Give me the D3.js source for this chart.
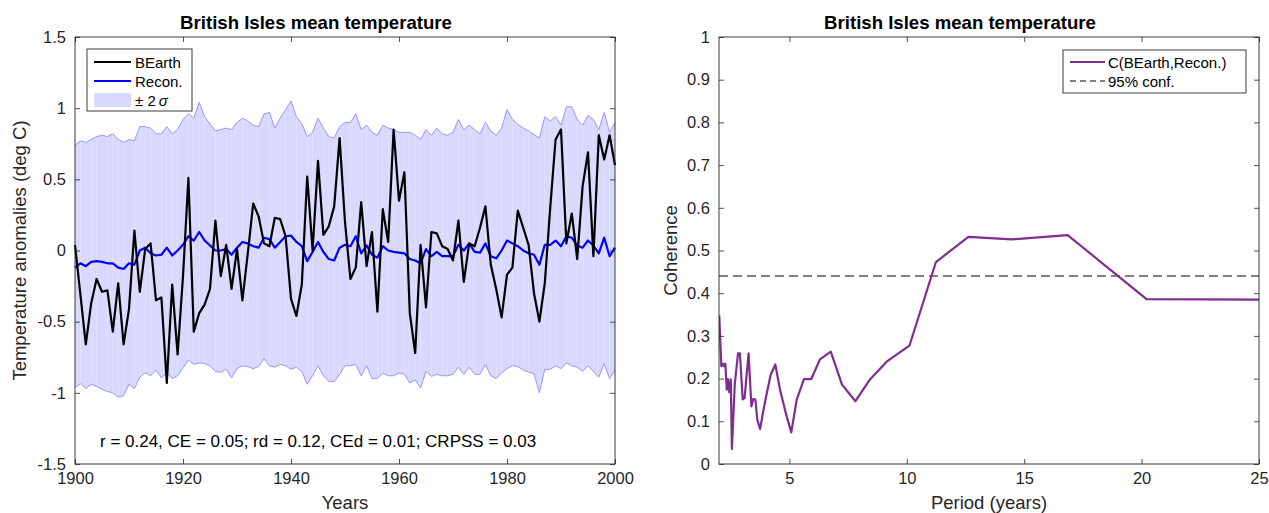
<!DOCTYPE html>
<html>
<head>
<meta charset="utf-8">
<script src="https://cdn.jsdelivr.net/npm/d3@7"></script>
<style>
  body { margin: 0; background: #fff; }
  text { font-family: "Liberation Sans", Arial, Helvetica, sans-serif; }
</style>
</head>
<body>
<svg id="chart" width="1269" height="513"></svg>
<script>
// ---- Data: annual temperature anomalies (deg C), 1900-2000 ----
const years = d3.range(1900, 2001);

const bearth = [
   0.04, -0.31, -0.66, -0.37, -0.20, -0.29, -0.28, -0.57, -0.23, -0.66,
  -0.41,  0.14, -0.29,  0.01,  0.05, -0.35, -0.33, -0.93, -0.24, -0.73,
  -0.18,  0.51, -0.57, -0.44, -0.38, -0.27,  0.21, -0.18,  0.04, -0.27,
   0.01, -0.35, -0.02,  0.33,  0.24,  0.05,  0.03,  0.23,  0.22,  0.10,
  -0.34, -0.46, -0.24,  0.52,  0.00,  0.63,  0.11,  0.17,  0.31,  0.79,
   0.20, -0.20, -0.12,  0.34, -0.11,  0.13, -0.43,  0.29,  0.06,  0.85,
   0.35,  0.55, -0.44, -0.72,  0.04, -0.40,  0.13,  0.12,  0.03,  0.01,
  -0.07,  0.21, -0.22,  0.05,  0.03,  0.16,  0.31, -0.10, -0.27, -0.47,
  -0.17, -0.12,  0.28,  0.16,  0.04, -0.30, -0.50, -0.23,  0.30,  0.78,
   0.85,  0.05,  0.26, -0.06,  0.45,  0.69, -0.04,  0.81,  0.64,  0.81,
   0.60
];

const recon = [
  -0.12, -0.09, -0.11, -0.08, -0.075, -0.08, -0.09, -0.09, -0.12, -0.13,
  -0.09, -0.10,  0.00,  0.02, -0.02, -0.035, -0.03,  0.02, -0.035,  0.00,
   0.04,  0.10,  0.07,  0.13,  0.07,  0.035,  0.00,  0.00,  0.01, -0.03,
   0.02,  0.06,  0.05,  0.03,  0.02,  0.09,  0.08,  0.02,  0.06,  0.10,
   0.105, 0.06,  0.03, -0.075, -0.01,  0.06, -0.01, -0.06, -0.07,  0.02,
   0.04,  0.03,  0.10, -0.02,  0.035, -0.03, -0.05,  0.03,  0.00, -0.01,
  -0.015, -0.02, -0.06, -0.07, -0.09,  0.01, -0.04, -0.01, -0.04, -0.04,
  -0.04,  0.04,  0.00,  0.05, -0.01, -0.015,  0.05, -0.04, -0.055,  0.00,
   0.07,  0.05,  0.03,  0.00, -0.02, -0.03, -0.10,  0.04,  0.04,  0.07,
   0.03,  0.10,  0.09,  0.035,  0.02,  0.07,  0.035, -0.02,  0.09, -0.04,
   0.02
];

// upper and lower edges of the +/- 2 sigma envelope
const bandUpper = [
  0.74, 0.77, 0.76, 0.78, 0.80, 0.81, 0.80, 0.82, 0.78, 0.76,
  0.78, 0.77, 0.87, 0.87, 0.86, 0.82, 0.82, 0.87, 0.82, 0.85,
  0.92, 0.96, 0.93, 1.04, 0.94, 0.89, 0.84, 0.85, 0.86, 0.85,
  0.90, 0.93, 0.91, 0.88, 0.87, 0.96, 0.97, 0.86, 0.93, 0.99,
  1.05, 0.94, 0.89, 0.80, 0.83, 0.93, 0.86, 0.80, 0.79, 0.87,
  0.90, 0.90, 0.96, 0.85, 0.88, 0.83, 0.81, 0.88, 0.86, 0.85,
  0.83, 0.83, 0.83, 0.81, 0.78, 0.85, 0.81, 0.86, 0.82, 0.81,
  0.83, 0.92, 0.85, 0.88, 0.85, 0.82, 0.90, 0.84, 0.81, 0.86,
  0.99, 0.92, 0.885, 0.86, 0.84, 0.815, 0.79, 0.94, 0.91, 0.94,
  0.88, 1.01, 1.01, 0.92, 0.88, 0.95, 0.92, 0.85, 0.97, 0.83,
  0.90
];

const bandLower = [
  -0.965, -0.935, -0.97, -0.94, -0.955, -0.975, -0.99, -1.00, -1.03, -1.02,
  -0.94, -0.97, -0.89, -0.86, -0.88, -0.84, -0.895, -0.855, -0.90, -0.88,
  -0.825, -0.77, -0.80, -0.79, -0.795, -0.81, -0.85, -0.855, -0.835, -0.895,
  -0.83, -0.81, -0.815, -0.83, -0.815, -0.76, -0.81, -0.82, -0.80, -0.81,
  -0.835, -0.82, -0.85, -0.94, -0.88, -0.81, -0.88, -0.92, -0.92, -0.87,
  -0.81, -0.81, -0.80, -0.88, -0.81, -0.90, -0.90, -0.86, -0.88, -0.88,
  -0.86, -0.87, -0.93, -0.91, -0.965, -0.85, -0.885, -0.87, -0.88, -0.88,
  -0.87, -0.82, -0.87, -0.82, -0.87, -0.87, -0.80, -0.88, -0.90, -0.86,
  -0.83, -0.81, -0.815, -0.84, -0.855, -0.865, -1.00, -0.835, -0.835, -0.81,
  -0.83, -0.79, -0.81, -0.82, -0.85, -0.81, -0.85, -0.89, -0.795, -0.90,
  -0.84
];

const statsLabel = "r = 0.24, CE = 0.05; rd = 0.12, CEd = 0.01; CRPSS = 0.03";

// ---- Data: coherence spectrum between the two series ----
const periods = [
  2.01, 2.10, 2.16, 2.21, 2.27, 2.33, 2.38, 2.44, 2.50, 2.55,
  2.67, 2.81, 2.89, 3.01, 3.09, 3.26, 3.38, 3.46, 3.55, 3.63,
  3.75, 3.95, 4.20, 4.40, 4.60, 4.88, 5.08, 5.31, 5.62, 5.93,
  6.30, 6.76, 7.24, 7.81, 8.43, 9.17, 10.11, 11.24, 12.62, 14.47,
  16.85, 20.21, 25.25
];
const coherence = [
  0.348, 0.229, 0.235, 0.229, 0.235, 0.174, 0.199, 0.168, 0.198, 0.035,
  0.186, 0.259, 0.259, 0.151, 0.155, 0.259, 0.135, 0.152, 0.151, 0.104,
  0.082, 0.143, 0.209, 0.233, 0.174, 0.112, 0.074, 0.151, 0.199, 0.199,
  0.245, 0.263, 0.186, 0.147, 0.198, 0.241, 0.277, 0.473, 0.532, 0.526,
  0.536, 0.386, 0.385
];
const confLevel = 0.44;

// ---- Tick values ----
const leftXTicks = [1900, 1920, 1940, 1960, 1980, 2000];
const leftYTicks = [-1.5, -1, -0.5, 0, 0.5, 1, 1.5];
const rightXTicks = [5, 10, 15, 20, 25];
const rightYTicks = [0, 0.1, 0.2, 0.3, 0.4, 0.5, 0.6, 0.7, 0.8, 0.9, 1];

// ---- Layout ----
const svg = d3.select("#chart");
const axisColor = "#262626";
const tickFont = 16.5;
const labelFont = 18.5;
const titleFont = 18.6;
const legendFont = 15;
const titleShift = -29;   // titles sit slightly left of the panel centre

const P1 = { left: 75, right: 615, top: 37, bottom: 464 };
const P2 = { left: 719, right: 1259, top: 37, bottom: 464 };

function drawFrame(g, P, x, y, xTicks, yTicks, fmtY) {
  const inner = 5;
  const xb = g.append("g").attr("transform", `translate(0,${P.bottom})`)
    .call(d3.axisBottom(x).tickValues(xTicks).tickSize(-inner).tickSizeOuter(0).tickPadding(8).tickFormat(d3.format("d")));
  const xt = g.append("g").attr("transform", `translate(0,${P.top})`)
    .call(d3.axisTop(x).tickValues(xTicks).tickSize(-inner).tickSizeOuter(0).tickFormat(""));
  const yl = g.append("g").attr("transform", `translate(${P.left},0)`)
    .call(d3.axisLeft(y).tickValues(yTicks).tickSize(-inner).tickSizeOuter(0).tickPadding(9).tickFormat(fmtY));
  const yr = g.append("g").attr("transform", `translate(${P.right},0)`)
    .call(d3.axisRight(y).tickValues(yTicks).tickSize(-inner).tickSizeOuter(0).tickFormat(""));
  [xb, xt, yl, yr].forEach(a => {
    a.select(".domain").remove();
    a.selectAll("line").attr("stroke", axisColor).attr("stroke-width", 0.8);
    a.selectAll("text").attr("fill", axisColor).style("font-size", tickFont + "px");
  });
  g.append("rect")
    .attr("x", P.left).attr("y", P.top)
    .attr("width", P.right - P.left).attr("height", P.bottom - P.top)
    .attr("fill", "none").attr("stroke", axisColor).attr("stroke-width", 0.9);
}

// ================= Left panel: temperature series =================
const x1 = d3.scaleLinear().domain([1900, 2000]).range([P1.left, P1.right]);
const y1 = d3.scaleLinear().domain([-1.5, 1.5]).range([P1.bottom, P1.top]);
const g1 = svg.append("g");

// envelope drawn year by year as adjacent patches
const bandArea = d3.area()
  .x(i => x1(years[i]))
  .y0(i => y1(bandLower[i]))
  .y1(i => y1(bandUpper[i]));
g1.append("g").selectAll("path")
  .data(d3.range(years.length - 1))
  .join("path")
  .attr("d", i => bandArea([i, i + 1]))
  .attr("fill", "#d9d9ff");

const edgeLine = d3.line().x((d, i) => x1(years[i])).y(d => y1(d));
g1.append("path").attr("d", edgeLine(bandUpper))
  .attr("fill", "none").attr("stroke", "#8c8cff").attr("stroke-width", 0.9);
g1.append("path").attr("d", edgeLine(bandLower))
  .attr("fill", "none").attr("stroke", "#8c8cff").attr("stroke-width", 0.9);

const seriesLine = d3.line().x((d, i) => x1(years[i])).y(d => y1(d));
g1.append("path").attr("d", seriesLine(recon))
  .attr("fill", "none").attr("stroke", "#0000ff").attr("stroke-width", 2.2)
  .attr("stroke-linejoin", "round");
g1.append("path").attr("d", seriesLine(bearth))
  .attr("fill", "none").attr("stroke", "#000").attr("stroke-width", 2.2)
  .attr("stroke-linejoin", "round");

drawFrame(g1, P1, x1, y1, leftXTicks, leftYTicks, d => String(d));

g1.append("text").attr("x", (P1.left + P1.right) / 2 + titleShift).attr("y", 29)
  .attr("text-anchor", "middle").style("font-size", titleFont + "px")
  .style("font-weight", "bold").attr("fill", "#000")
  .text("British Isles mean temperature");
g1.append("text").attr("x", (P1.left + P1.right) / 2).attr("y", 509)
  .attr("text-anchor", "middle").style("font-size", labelFont + "px")
  .attr("fill", axisColor).text("Years");
g1.append("text").attr("transform", `translate(26,${(P1.top + P1.bottom) / 2}) rotate(-90)`)
  .attr("text-anchor", "middle").style("font-size", labelFont + "px")
  .attr("fill", axisColor).text("Temperature anomalies (deg C)");
g1.append("text").attr("x", 100).attr("y", 447)
  .style("font-size", "17px").attr("fill", "#000").text(statsLabel);

// legend
const lg1 = g1.append("g");
lg1.append("rect").attr("x", 87).attr("y", 49).attr("width", 105).attr("height", 62)
  .attr("fill", "#fff").attr("stroke", axisColor).attr("stroke-width", 0.9);
lg1.append("line").attr("x1", 94).attr("x2", 131).attr("y1", 62).attr("y2", 62)
  .attr("stroke", "#000").attr("stroke-width", 2.2);
lg1.append("line").attr("x1", 94).attr("x2", 131).attr("y1", 81).attr("y2", 81)
  .attr("stroke", "#0000ff").attr("stroke-width", 2.2);
lg1.append("rect").attr("x", 94).attr("y", 93).attr("width", 37).attr("height", 14)
  .attr("fill", "#d9d9ff");
lg1.append("text").attr("x", 135).attr("y", 67.5).style("font-size", legendFont + "px").attr("fill", "#000").text("BEarth");
lg1.append("text").attr("x", 135).attr("y", 86.5).style("font-size", legendFont + "px").attr("fill", "#000").text("Recon.");
const sig = lg1.append("text").attr("x", 135).attr("y", 105.5).style("font-size", legendFont + "px").attr("fill", "#000");
sig.append("tspan").text("\u00b1 2");
sig.append("tspan").attr("dx", 3).style("font-style", "italic").text("\u03c3");

// ================= Right panel: coherence =================
const x2 = d3.scaleLinear().domain([2, 25]).range([P2.left, P2.right]);
const y2 = d3.scaleLinear().domain([0, 1]).range([P2.bottom, P2.top]);
const g2 = svg.append("g");

svg.append("defs").append("clipPath").attr("id", "clip2")
  .append("rect").attr("x", P2.left).attr("y", P2.top)
  .attr("width", P2.right - P2.left).attr("height", P2.bottom - P2.top);

g2.append("line")
  .attr("x1", x2(2)).attr("x2", x2(25))
  .attr("y1", y2(confLevel)).attr("y2", y2(confLevel))
  .attr("stroke", "#808080").attr("stroke-width", 2).attr("stroke-dasharray", "9,5");

const cohLine = d3.line().x((d, i) => x2(periods[i])).y(d => y2(d));
g2.append("path").attr("clip-path", "url(#clip2)")
  .attr("d", cohLine(coherence))
  .attr("fill", "none").attr("stroke", "#7e2f8e").attr("stroke-width", 2.2)
  .attr("stroke-linejoin", "round");

drawFrame(g2, P2, x2, y2, rightXTicks, rightYTicks, d => String(d));

g2.append("text").attr("x", (P2.left + P2.right) / 2 + titleShift).attr("y", 29)
  .attr("text-anchor", "middle").style("font-size", titleFont + "px")
  .style("font-weight", "bold").attr("fill", "#000")
  .text("British Isles mean temperature");
g2.append("text").attr("x", (P2.left + P2.right) / 2).attr("y", 509)
  .attr("text-anchor", "middle").style("font-size", labelFont + "px")
  .attr("fill", axisColor).text("Period (years)");
g2.append("text").attr("transform", `translate(677,${(P2.top + P2.bottom) / 2}) rotate(-90)`)
  .attr("text-anchor", "middle").style("font-size", labelFont + "px")
  .attr("fill", axisColor).text("Coherence");

const lg2 = g2.append("g");
lg2.append("rect").attr("x", 1063).attr("y", 50).attr("width", 183).attr("height", 43)
  .attr("fill", "#fff").attr("stroke", axisColor).attr("stroke-width", 0.9);
lg2.append("line").attr("x1", 1070).attr("x2", 1105).attr("y1", 62).attr("y2", 62)
  .attr("stroke", "#7e2f8e").attr("stroke-width", 2.2);
lg2.append("line").attr("x1", 1070).attr("x2", 1105).attr("y1", 81).attr("y2", 81)
  .attr("stroke", "#808080").attr("stroke-width", 2).attr("stroke-dasharray", "6,4");
lg2.append("text").attr("x", 1108).attr("y", 67.5).style("font-size", legendFont + "px").attr("fill", "#000").text("C(BEarth,Recon.)");
lg2.append("text").attr("x", 1108).attr("y", 86.5).style("font-size", legendFont + "px").attr("fill", "#000").text("95% conf.");
</script>
</body>
</html>
